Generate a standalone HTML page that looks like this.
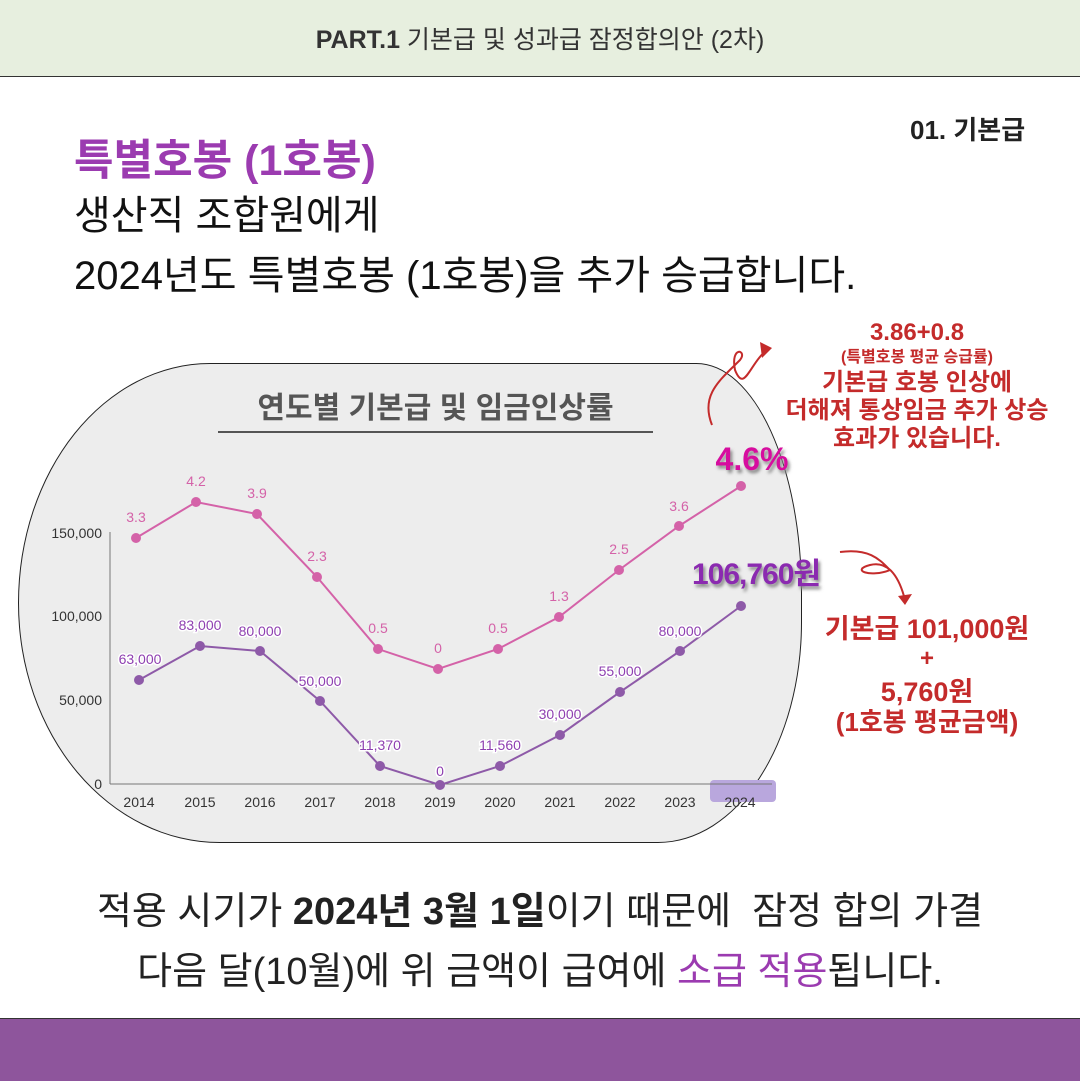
<!DOCTYPE html>
<html><head><meta charset="utf-8"><style>
body{margin:0;width:1080px;height:1080px;background:#fff;position:relative;overflow:hidden;font-family:"Liberation Sans","Noto Sans CJK KR",sans-serif}
.abs{position:absolute}
</style></head><body>
<div class="abs" style="left:0;top:0;width:1080px;height:76px;background:#e7efdf;border-bottom:1.5px solid #333"></div>
<div class="abs" style="left:0;top:20px;width:1080px;text-align:center;font-size:25px;color:#333"><b>PART.1</b> 기본급 및 성과급 잠정합의안 (2차)</div>
<div class="abs" style="left:910px;top:110px;font-size:26px;font-weight:bold;color:#222">01. 기본급</div>
<div class="abs" style="left:74px;top:126px;font-size:43px;font-weight:bold;color:#9b3bb0">특별호봉 (1호봉)</div>
<div class="abs" style="left:74px;top:186px;font-size:40px;color:#111;line-height:60px">생산직 조합원에게<br>2024년도 특별호봉 (1호봉)을 추가 승급합니다.</div>

<div class="abs" style="left:18px;top:363px;width:782px;height:478px;background:#ededed;border:1.5px solid #222;border-radius:200px 110px 150px 210px / 250px 240px 230px 250px"></div>
<div class="abs" style="left:218px;top:383px;width:435px;text-align:center;font-size:30px;font-weight:bold;color:#555">연도별 기본급 및 임금인상률</div>
<div class="abs" style="left:218px;top:431px;width:435px;height:2px;background:#555"></div>

<svg class="abs" style="left:0;top:0" width="1080" height="1080" font-family="Liberation Sans, Noto Sans CJK KR, sans-serif">
<defs><filter id="sh"><feDropShadow dx="2" dy="3" stdDeviation="1.5" flood-color="#888"/></filter></defs>
<rect x="710" y="780" width="66" height="22" rx="4" fill="#b9a7dd"/>
<line x1="110" y1="532" x2="110" y2="784" stroke="#777"/>
<line x1="110" y1="784" x2="772" y2="784" stroke="#777"/>
<g font-size="14" fill="#333" text-anchor="end">
<text x="102" y="538">150,000</text><text x="102" y="621">100,000</text><text x="102" y="705">50,000</text><text x="102" y="789">0</text></g>
<g font-size="14" fill="#333" text-anchor="middle">
<text x="139" y="807">2014</text><text x="200" y="807">2015</text><text x="260" y="807">2016</text><text x="320" y="807">2017</text><text x="380" y="807">2018</text><text x="440" y="807">2019</text><text x="500" y="807">2020</text><text x="560" y="807">2021</text><text x="620" y="807">2022</text><text x="680" y="807">2023</text><text x="740" y="807">2024</text></g>
<polyline fill="none" stroke="#d462a8" stroke-width="2" points="136,538 196,502 257,514 317,577 378,649 438,669 498,649 559,617 619,570 679,526 741,486"/>
<g fill="#d462a8"><circle cx="136" cy="538" r="5"/><circle cx="196" cy="502" r="5"/><circle cx="257" cy="514" r="5"/><circle cx="317" cy="577" r="5"/><circle cx="378" cy="649" r="5"/><circle cx="438" cy="669" r="5"/><circle cx="498" cy="649" r="5"/><circle cx="559" cy="617" r="5"/><circle cx="619" cy="570" r="5"/><circle cx="679" cy="526" r="5"/><circle cx="741" cy="486" r="5"/></g>
<g font-size="14" fill="#d462a8" text-anchor="middle">
<text x="136" y="522">3.3</text><text x="196" y="486">4.2</text><text x="257" y="498">3.9</text><text x="317" y="561">2.3</text><text x="378" y="633">0.5</text><text x="438" y="653">0</text><text x="498" y="633">0.5</text><text x="559" y="601">1.3</text><text x="619" y="554">2.5</text><text x="679" y="511">3.6</text></g>
<polyline fill="none" stroke="#8e5aa8" stroke-width="2" points="139,680 200,646 260,651 320,701 380,766 440,785 500,766 560,735 620,692 680,651 741,606"/>
<g fill="#8e5aa8"><circle cx="139" cy="680" r="5"/><circle cx="200" cy="646" r="5"/><circle cx="260" cy="651" r="5"/><circle cx="320" cy="701" r="5"/><circle cx="380" cy="766" r="5"/><circle cx="440" cy="785" r="5"/><circle cx="500" cy="766" r="5"/><circle cx="560" cy="735" r="5"/><circle cx="620" cy="692" r="5"/><circle cx="680" cy="651" r="5"/><circle cx="741" cy="606" r="5"/></g>
<g font-size="14" fill="#8e3fb0" text-anchor="middle" stroke="#fff" stroke-width="3" paint-order="stroke">
<text x="140" y="664">63,000</text><text x="200" y="630">83,000</text><text x="260" y="636">80,000</text><text x="320" y="686">50,000</text><text x="380" y="750">11,370</text><text x="440" y="776">0</text><text x="500" y="750">11,560</text><text x="560" y="719">30,000</text><text x="620" y="676">55,000</text><text x="680" y="636">80,000</text></g>
<text x="752" y="470" font-size="32" font-weight="bold" fill="#d6119f" text-anchor="middle" filter="url(#sh)">4.6%</text>
<text x="756" y="584" font-size="30" font-weight="bold" fill="#8b2cb0" text-anchor="middle" filter="url(#sh)" letter-spacing="-1">106,760원</text>
<g fill="none" stroke="#c42b2b" stroke-width="2">
<path d="M712 425 C700 395,720 380,740 360 C748 350,730 345,735 370 C745 395,750 360,770 348"/>
<path d="M840 552 C870 548,880 560,890 570 C870 578,850 570,870 565 C890 560,900 580,905 600"/>
</g>
<path d="M760 342 L772 348 L762 358Z" fill="#c42b2b"/>
<path d="M898 596 L905 605 L912 594Z" fill="#c42b2b"/>
<g font-weight="bold" fill="#c42b2b" text-anchor="middle">
<text x="917" y="340" font-size="24">3.86+0.8</text>
<text x="917" y="362" font-size="16">(특별호봉 평균 승급률)</text>
<text x="917" y="390" font-size="24">기본급 호봉 인상에</text>
<text x="917" y="418" font-size="24">더해져 통상임금 추가 상승</text>
<text x="917" y="446" font-size="24">효과가 있습니다.</text>
<text x="927" y="638" font-size="27">기본급 101,000원</text>
<text x="927" y="666" font-size="24">+</text>
<text x="927" y="701" font-size="27">5,760원</text>
<text x="927" y="731" font-size="26">(1호봉 평균금액)</text>
</g>
</svg>

<div class="abs" style="left:0;top:882px;width:1080px;text-align:center;font-size:38px;color:#222;line-height:60px">적용 시기가 <b>2024년 3월 1일</b>이기 때문에&nbsp; 잠정 합의 가결<br>다음 달(10월)에 위 금액이 급여에 <span style="color:#9b3bb0">소급 적용</span>됩니다.</div>
<div class="abs" style="left:0;top:1018px;width:1080px;height:62px;background:#8e559c;border-top:1px solid #333"></div>
</body></html>
